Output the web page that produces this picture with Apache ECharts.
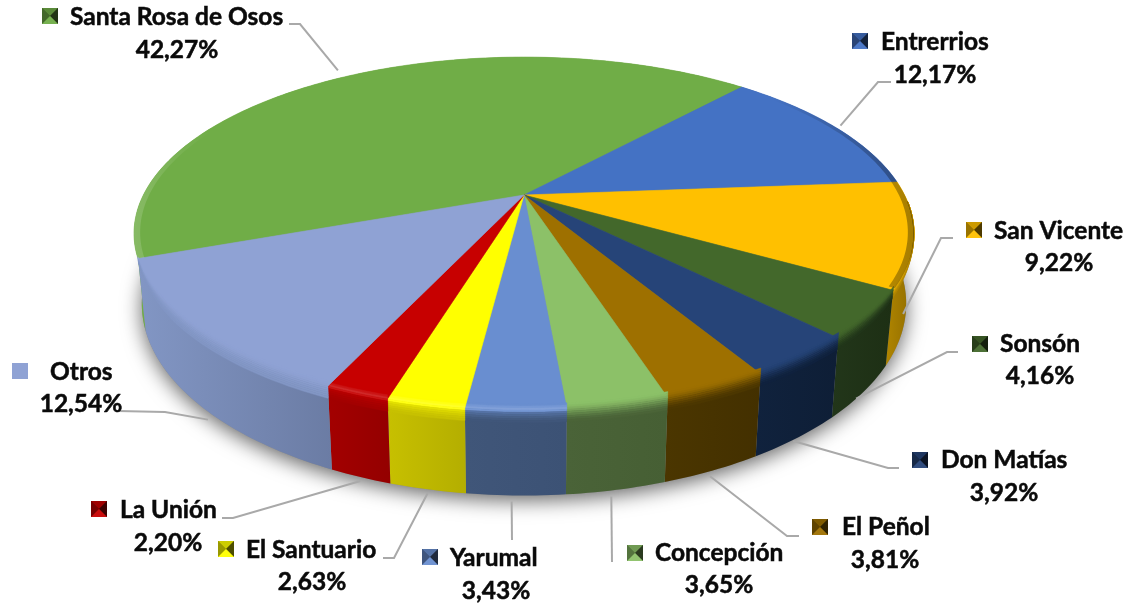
<!DOCTYPE html>
<html>
<head>
<meta charset="utf-8">
<style>html,body{margin:0;padding:0;background:#fff}#c{width:1137px;height:605px}</style>
<script src="https://cdn.jsdelivr.net/npm/echarts@6/dist/echarts.min.js"></script>
</head>
<body>
<div id="c"></div>
<script>
// ---- data ----
const names = ['Santa Rosa de Osos','Entrerrios','San Vicente','Sonsón','Don Matías','El Peñol','Concepción','Yarumal','El Santuario','La Unión','Otros'];
const values = [42.27,12.17,9.22,4.16,3.92,3.81,3.65,3.43,2.63,2.20,12.54];

// ---- styles ----
const faceColors = ['#70AD47','#4472C4','#FFC000','#43682B','#264478','#9E7000','#8CC168','#698ED0','#FFFF00','#C70000','#8FA2D4'];
const wallColors = [['#6fb044','#5d8f3a'],['#33568f','#2b4a7d'],['#b08500','#8f6c00'],['#22361a','#1d2f14'],['#10223d','#0e1e36'],['#4b3600','#433000'],['#4a6338','#465f34'],['#405679','#3c5275'],['#c7c000','#b4ae00'],['#a30000','#940000'],['#8296c4','#6b7ca4']];

// ---- layout: key box, name start, percent centre, leader elbow/stub, tip rule ----
const keyPos   = [[42,8],[852,33],[966,222],[972,336],[912,452],[812,519],[627,545],[422,549],[218,541],[91,501],[12,363]];
const namePos  = [[70,17],[881,42],[994,231],[1000,344],[941,460],[842,527],[655,553],[450,558],[246,550],[120,510],[50,372]];
const pctPos   = [[177,50],[935,75],[1059,263],[1040,376],[1004,493],[885,560],[719,585],[496,591],[312,582],[168,543],[81,404]];
const elbows   = [[[289,24],[300,24]],[[891,82],[878,82]],[[953,238],[941,238]],[[958,352],[947,352]],[[899,468],[888,468]],[[799,536],[787,536]],[[612,562]],[[512,540]],[[383,558],[394,558]],[[222,518],[233,518]],[[118,411],[165,412]]];
// tip: [angle shift from mid-slice, wall level (0 = rim, 1 = base), radial scale, extra px down]
const tipRule  = [[1,0,1.06,0],[0,0,1.02,0],[8.6,0.7,1,0],[1.8,1,1,0],[0.6,1,1,1],[0.3,1,1,5],[0.7,1,1,6],[0.6,1,1,6],[0,1,1,4],[0,1,1,4],[-1,1,1,8]];

// ---- perspective disc model ----
const CX = 524, CY = 195, RX = 380.6, RY = 168, K = 0.218, DEPTH = 67, START = 41.7 - values[0] * 3.6;
const rad = d => d * Math.PI / 180;
// slight camera skew of the reference: the lower-right quadrant is turned a little clockwise
function skew(deg) {
  if (deg <= 85 || deg >= 187) return 0;
  const s = Math.sin((deg - 85) / 102 * Math.PI);
  return 2.2 * s * s;
}
function project(deg, r, f) {
  const a = deg + skew(deg);
  const u = r * Math.sin(rad(a)), v = -r * Math.cos(rad(a)), w = 1 - K * v;
  return [CX + RX * u / w * (1 - 0.02 * f), CY + (RY * v + DEPTH * f) / w];
}
function arc(a0, a1, r, f) {
  const n = Math.max(2, Math.ceil(Math.abs(a1 - a0))), out = [];
  for (let i = 0; i <= n; i++) {
    const a = a0 + (a1 - a0) * i / n;
    out.push(project(a, r, typeof f === 'function' ? f(a) : f));
  }
  return out;
}
const total = values.reduce((a, b) => a + b, 0);
const bounds = [];
values.reduce((acc, v, i) => { const e = acc + v / total * 360; bounds[i] = [acc, e]; return e; }, START);

function hex(c) { return [1, 3, 5].map(i => parseInt(c.substr(i, 2), 16)); }
function mix(a, b, t) {
  const A = hex(a), B = hex(b);
  return 'rgb(' + A.map((x, i) => Math.round(x + (B[i] - x) * t)).join(',') + ')';
}
function shade(c, s) { return mix(c, s > 1 ? '#ffffff' : '#000000', s > 1 ? s - 1 : 1 - s); }
const clamp01 = x => Math.max(0, Math.min(1, x));
// bevel fades out towards the two sides of the disc
const taper = a => { const t = clamp01(Math.min((a - 92) / 40, (262 - a) / 30)); return t * t * (3 - 2 * t); };

// ---- layers ----
function shadowLayer() {
  return { type: 'polygon', shape: { points: arc(0, 360, 1, 1) },
    style: { fill: '#8a8a8a', shadowBlur: 20, shadowColor: 'rgba(0,0,0,0.6)', shadowOffsetY: 5 } };
}
function wallLayer(i) {
  const [a0, a1] = bounds[i];
  const pts = arc(a0, a1, 1, 0).concat(arc(a1, a0, 1, 1));
  const [c0, c1] = wallColors[i];
  return { type: 'group', children: [{ type: 'polygon', shape: { points: pts },
    style: { fill: { type: 'linear', x: 0, y: 0, x2: 1, y2: 0, colorStops: [{ offset: 0, color: c0 }, { offset: 1, color: c1 }] } } }] };
}
function faceLayer(i) {
  const [a0, a1] = bounds[i], face = faceColors[i], wall = wallColors[i][0];
  const children = [{ type: 'polygon', shape: { points: [[CX, CY]].concat(arc(a0, a1, 1, 0)) },
    style: { fill: face, stroke: face, lineWidth: 0.6 } }];
  // soft bevel along the rim: strips from the face colour into the wall colour
  const b0 = Math.max(a0, 92), b1 = Math.min(a1, 262);
  if (b1 > b0) {
    const steps = 9, from = -0.07, to = 0.15, mid = (b0 + b1) / 2;
    const lit = mid > 178 && mid < 205 ? 0.16 : 0;
    for (let s = 0; s < steps; s++) {
      const f0 = from + (to - from) * s / steps, f1 = from + (to - from) * (s + 1) / steps;
      const t = (s + 0.5) / steps;
      const e = t * t * (3 - 2 * t);
      let col = mix(face, wall, e);
      if (lit && s >= 1 && s <= 3) col = mix(face, '#ffffff', lit * (1 - Math.abs(s - 2) / 2));
      const top = arc(b0, b1, 1, a => f0 * taper(a)), low = arc(b1, b0, 1, a => f1 * taper(a));
      children.push({ type: 'polygon', shape: { points: top.concat(low) },
        style: { fill: col, stroke: col, lineWidth: 0.4 } });
    }
  }
  return { type: 'group', children };
}
function rimLayer() {
  const pts = arc(START, 118, 1, 0).concat(arc(118, START, 0.985, 0));
  return { type: 'polygon', shape: { points: pts }, style: { fill: { type: 'linear', global: true, x: 133, y: 0, x2: 912, y2: 0, colorStops: [
    { offset: 0, color: 'rgba(255,255,255,0.16)' }, { offset: 0.10, color: 'rgba(255,255,255,0)' },
    { offset: 0.82, color: 'rgba(0,0,0,0)' }, { offset: 1, color: 'rgba(0,0,0,0.35)' }] } } };
}
const TEXT = { fill: '#0a0a0a', stroke: '#0a0a0a', lineWidth: 0.5, fontFamily: 'Lato', fontWeight: 'bold', fontSize: 24.5, textVerticalAlign: 'middle' };
function labelLayer(i) {
  const [a0, a1] = bounds[i], [shift, lvl, r, dy] = tipRule[i];
  const tip = project((a0 + a1) / 2 + shift, r, lvl); tip[1] += dy;
  const [kx, ky] = keyPos[i], c = faceColors[i], q = 16, m = [kx + q / 2, ky + q / 2];
  const tri = (p, q2, col) => ({ type: 'polygon', shape: { points: [p, q2, m] }, style: { fill: col } });
  const TL = [kx, ky], TR = [kx + q, ky], BR = [kx + q, ky + q], BL = [kx, ky + q];
  const flat = i === names.length - 1;
  const key = [{ type: 'rect', shape: { x: kx, y: ky, width: q, height: q }, style: { fill: flat ? c : shade(c, 0.6) } }];
  if (!flat) key.push(tri(TL, TR, shade(c, 0.8)), tri(TL, BL, shade(c, 0.6)), tri(TR, BR, shade(c, 0.3)), tri(BL, BR, shade(c, 1.05)));
  return { type: 'group', children: [
    { type: 'polyline', shape: { points: elbows[i].concat([tip]) }, style: { fill: null, stroke: '#a9a9a9', lineWidth: 2 } },
    ...key,
    { type: 'text', style: Object.assign({}, TEXT, { text: names[i], x: namePos[i][0], y: namePos[i][1], textAlign: 'left' }) },
    { type: 'text', style: Object.assign({}, TEXT, { text: values[i].toFixed(2).replace('.', ',') + '%', x: pctPos[i][0], y: pctPos[i][1], textAlign: 'center' }) }
  ] };
}
const items = values.map((v, i) => [i, v]);
const layer = (fn, data) => ({ type: 'custom', coordinateSystem: 'none', silent: true, animation: false, data,
  renderItem: (p) => fn(p.dataIndex) });

echarts.init(document.getElementById('c'), null, { renderer: 'canvas' }).setOption({
  backgroundColor: '#fff', animation: false, tooltip: { show: false },
  series: [ layer(shadowLayer, [[0]]), layer(wallLayer, items), layer(faceLayer, items), layer(rimLayer, [[0]]), layer(labelLayer, items) ]
});
</script>
</body>
</html>
